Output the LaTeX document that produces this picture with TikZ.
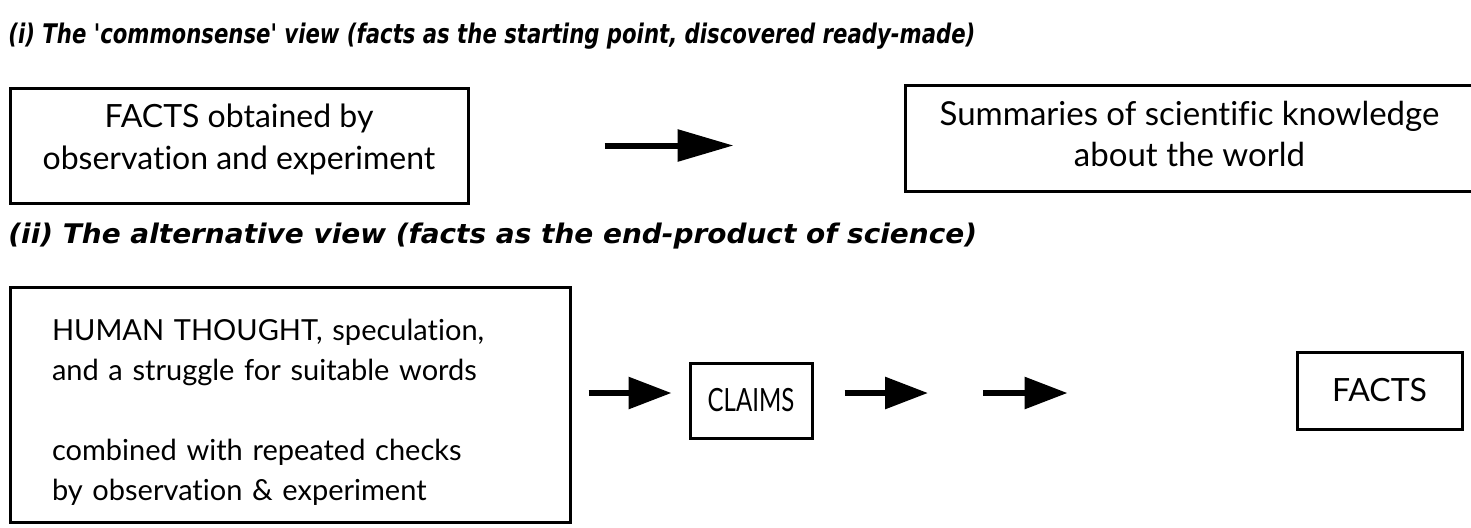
\documentclass[tikz,border=0pt]{standalone}
\usepackage{fontspec}
\setmainfont[Ligatures={TeX,NoCommon}]{Lato}
\newfontfamily\headfont{DejaVu Sans}
\newfontfamily\narrowfont[FakeStretch=0.75]{Lato}
\usetikzlibrary{arrows.meta,positioning,calc}

\tikzset{
  box/.style={draw,line width=1.5pt,align=center,inner sep=0pt,font=\fontsize{16}{21}\selectfont},
  heading/.style={anchor=base west,inner sep=0pt,font=\headfont\bfseries\itshape\fontsize{13.5}{16}\selectfont},
  bigarrow/.style={line width=3pt,-{Triangle[length=21.5pt,width=15.5pt]}}
}

\begin{document}
\begin{tikzpicture}[x=0.5pt,y=-0.5pt]
\useasboundingbox (0,0) rectangle (1471,527);
% (i) commonsense view
\node[heading] (head1) at (8,43) {\scalebox{0.786}[1]{(i) The 'commonsense' view (facts as the starting point, discovered ready-made)}};
\node[box,minimum width=229pt,minimum height=57.5pt] (obs) at (239,145.5) {FACTS obtained by\\observation and experiment\rule[-8.5pt]{0pt}{1pt}};
\node[box,minimum width=284.5pt,minimum height=53pt,font=\fontsize{16.5}{20.5}\selectfont] (summ) at (1189.5,138) {Summaries of scientific knowledge\\about the world\rule[-4pt]{0pt}{1pt}};
\draw[bigarrow,-{Triangle[length=28pt,width=15.5pt]},shorten <=67.5pt,shorten >=85pt] (obs.east) -- (obs.east -| summ.west);
% (ii) alternative view
\node[heading] (head2) at (8,243) {\scalebox{1.035}[1]{(ii) The alternative view (facts as the end-product of science)}};
\node[box,align=left,text width=238pt,inner xsep=21pt,minimum height=117.5pt,font=\fontsize{14.5}{20}\selectfont] (human) at (290,404.5) {\rule{0pt}{18pt}HUMAN THOUGHT, speculation,\\and a struggle for suitable words\\[20pt]combined with repeated checks\\by observation \& experiment};
\node[box,minimum width=61pt,minimum height=37.5pt,font=\narrowfont\fontsize{16}{20}\selectfont] (claims) at (751,400.5) {CLAIMS};
\node[box,minimum width=82.5pt,minimum height=38.5pt] (facts) at (1379.5,390.5) {FACTS};
\coordinate (gapL) at (928,393);
\coordinate (gapR) at (983,393);
\draw[bigarrow,shorten <=8.5pt,shorten >=8.5pt] ([yshift=3.75pt]human.east |- claims.west) -- ([yshift=3.75pt]claims.west);
\draw[bigarrow,shorten <=15.5pt] (claims.east |- gapL) -- (gapL);
\draw[bigarrow,shorten >=114pt] (gapR) -- (gapR -| facts.west);
\end{tikzpicture}
\end{document}
